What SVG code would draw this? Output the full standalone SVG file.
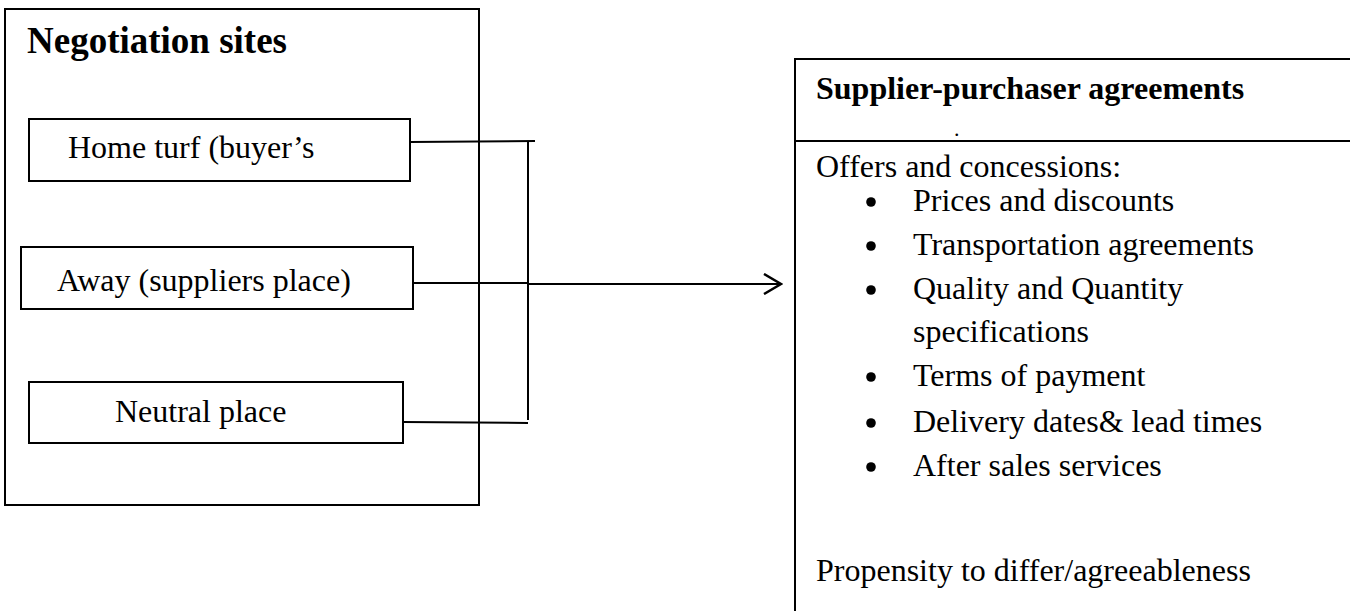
<svg xmlns="http://www.w3.org/2000/svg" width="1350" height="611" viewBox="0 0 1350 611">
<defs>
<style>
.box{fill:#fff;stroke:#000;stroke-width:2}
.ln{fill:none;stroke:#000;stroke-width:2}
.t{font-family:"Liberation Serif","Times New Roman",serif;font-size:32px;fill:#000}
.b{font-weight:bold}
.bul{fill:#000}
</style>
<marker id="arr" markerWidth="20" markerHeight="22" refX="18" refY="11" orient="auto" markerUnits="userSpaceOnUse" viewBox="0 0 20 22">
<path d="M1,1 L18,11 L1,21" fill="none" stroke="#000" stroke-width="2.5"/>
</marker>
</defs>
<rect width="1350" height="611" fill="#fff"/>
<g id="negotiation-sites">
<rect class="box" x="5" y="9" width="474" height="496"/>
<text class="t b" x="27" y="53" style="font-size:37px">Negotiation sites</text>
</g>
<g id="home-turf">
<rect class="box" x="29" y="119" width="381" height="62"/>
<text class="t" x="68" y="158">Home turf (buyer’s</text>
</g>
<g id="away">
<rect class="box" x="21" y="247" width="392" height="62"/>
<text class="t" x="57" y="291">Away (suppliers place)</text>
</g>
<g id="neutral">
<rect class="box" x="29" y="382" width="374" height="61"/>
<text class="t" x="115" y="422">Neutral place</text>
</g>
<g id="agreements">
<path class="ln" d="M1352,59 H795 V613"/>
<line class="ln" x1="795" y1="141" x2="1352" y2="141"/>
<text class="t b" x="816" y="99">Supplier-purchaser agreements</text>
<text class="t" x="954" y="136" style="font-size:22px">.</text>
<text class="t" x="816" y="177">Offers and concessions:</text>
<circle class="bul" cx="871" cy="202" r="4.8"/>
<text class="t" x="913" y="211">Prices and discounts</text>
<circle class="bul" cx="871" cy="246" r="4.8"/>
<text class="t" x="913" y="255">Transportation agreements</text>
<circle class="bul" cx="871" cy="290" r="4.8"/>
<text class="t" x="913" y="299">Quality and Quantity</text>
<text class="t" x="913" y="342">specifications</text>
<circle class="bul" cx="871" cy="377" r="4.8"/>
<text class="t" x="913" y="386">Terms of payment</text>
<circle class="bul" cx="871" cy="423" r="4.8"/>
<text class="t" x="913" y="432">Delivery dates&amp; lead times</text>
<circle class="bul" cx="871" cy="467" r="4.8"/>
<text class="t" x="913" y="476">After sales services</text>
<text class="t" x="816" y="581">Propensity to differ/agreeableness</text>
</g>
<g id="connectors">
<line class="ln" x1="410" y1="142" x2="535" y2="141"/>
<line class="ln" x1="413" y1="283" x2="528" y2="283"/>
<line class="ln" x1="403" y1="422" x2="528" y2="423"/>
<line class="ln" x1="528" y1="141" x2="528" y2="420"/>
<line class="ln" x1="528" y1="284" x2="781" y2="284" stroke-width="2.5" marker-end="url(#arr)"/>
</g>
</svg>
